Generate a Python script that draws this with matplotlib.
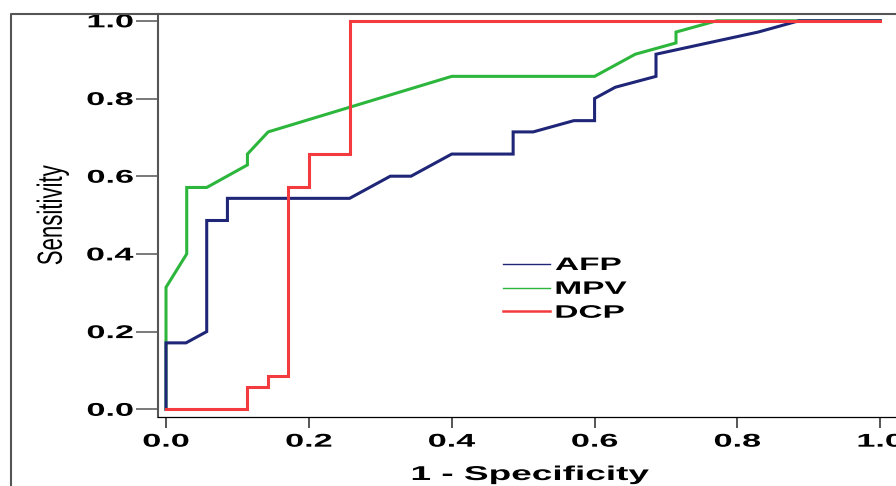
import matplotlib
matplotlib.use("Agg")
import matplotlib.pyplot as plt
from matplotlib.lines import Line2D
from matplotlib.patheffects import AbstractPathEffect
from matplotlib.transforms import Affine2D


# ROC curves (1 - specificity, sensitivity)
afp_fpr = [0.0, 0.0, 0.028, 0.057, 0.057, 0.086, 0.086, 0.257, 0.314, 0.343, 0.400, 0.486,
           0.486, 0.514, 0.571, 0.600, 0.600, 0.629, 0.686, 0.686, 0.829, 0.886, 1.0]
afp_tpr = [0.0, 0.171, 0.171, 0.200, 0.486, 0.486, 0.543, 0.543, 0.600, 0.600, 0.657, 0.657,
           0.714, 0.714, 0.743, 0.743, 0.800, 0.829, 0.857, 0.914, 0.971, 1.0, 1.0]

mpv_fpr = [0.0, 0.0, 0.029, 0.029, 0.057, 0.114, 0.114, 0.143, 0.400, 0.600, 0.657, 0.714,
           0.714, 0.771, 1.0]
mpv_tpr = [0.0, 0.314, 0.400, 0.571, 0.571, 0.629, 0.657, 0.714, 0.857, 0.857, 0.914, 0.943,
           0.971, 1.0, 1.0]

dcp_fpr = [0.0, 0.114, 0.114, 0.143, 0.143, 0.171, 0.171, 0.200, 0.200, 0.257, 0.257, 1.0]
dcp_tpr = [0.0, 0.0, 0.057, 0.057, 0.086, 0.086, 0.571, 0.571, 0.657, 0.657, 1.0, 1.0]

TICKS = [0.0, 0.2, 0.4, 0.6, 0.8, 1.0]
TICK_LABELS = ["0.0", "0.2", "0.4", "0.6", "0.8", "1.0"]

AFP_COLOR = "#1f2677"
MPV_COLOR = "#2db63c"
DCP_COLOR = "#f33b3f"

FONT = "Liberation Sans"


class Stretch(AbstractPathEffect):
    # the source picture is squashed sideways, so widen the glyphs to match
    def __init__(self, sx=1.0, sy=1.0, anchor="center"):
        super().__init__()
        self.sx, self.sy, self.anchor = sx, sy, anchor

    def draw_path(self, renderer, gc, tpath, affine, rgbFace=None):
        ext = tpath.get_extents()
        if self.anchor == "left":
            cx = ext.x0
        elif self.anchor == "right":
            cx = ext.x1
        else:
            cx = (ext.x0 + ext.x1) / 2
        cy = (ext.y0 + ext.y1) / 2
        stretch = Affine2D().translate(-cx, -cy).scale(self.sx, self.sy).translate(cx, cy)
        renderer.draw_path(gc, tpath, stretch + affine, rgbFace)


def main():
    W, H = 896, 486
    fig = plt.figure(figsize=(W / 100, H / 100), dpi=100)

    # axes box in pixels: left 158, top 14, bottom 417, right runs past the image
    ax = fig.add_axes([158 / W, (H - 417) / H, 751 / W, 403 / H])

    ax.plot(mpv_fpr, mpv_tpr, color=MPV_COLOR, lw=2.2, solid_joinstyle="miter")
    ax.plot(afp_fpr, afp_tpr, color=AFP_COLOR, lw=2.2, solid_joinstyle="miter")
    ax.plot(dcp_fpr, dcp_tpr, color=DCP_COLOR, lw=2.2, solid_joinstyle="miter")

    ax.set_xlim(-0.0112, 1.0402)
    ax.set_ylim(-0.0198, 1.0175)

    ax.set_xticks(TICKS)
    ax.set_xticklabels(TICK_LABELS)
    ax.set_yticks(TICKS)
    ax.set_yticklabels(TICK_LABELS)

    ax.tick_params(axis="y", direction="out", length=15.8, width=1.1, color="#555555",
                   pad=2, labelsize=13.3)
    ax.tick_params(axis="x", direction="out", length=8, width=1.4, color="#555555",
                   pad=4, labelsize=13.3)
    for lab in ax.get_yticklabels():
        lab.set_fontfamily(FONT)
        lab.set_fontweight("bold")
        lab.set_path_effects([Stretch(1.85, 1.0, "right")])
    for lab in ax.get_xticklabels():
        lab.set_fontfamily(FONT)
        lab.set_fontweight("bold")
        lab.set_path_effects([Stretch(1.85, 1.0, "center")])

    ax.spines["top"].set_visible(False)
    ax.spines["right"].set_visible(False)
    ax.spines["left"].set_color("#555555")
    ax.spines["left"].set_linewidth(1.5)
    ax.spines["bottom"].set_color("black")
    ax.spines["bottom"].set_linewidth(0.9)

    xl = ax.set_xlabel("1 - Specificity", fontsize=14.4, fontweight="bold", family=FONT,
                       va="top")
    ax.xaxis.set_label_coords((530 - 158) / 751, (417 - 465) / 403)
    xl.set_path_effects([Stretch(1.85, 1.0, "center")])

    yl = ax.set_ylabel("Sensitivity", fontsize=16, family=FONT, va="center", ha="center")
    ax.yaxis.set_label_coords((53 - 158) / 751, (417 - 215) / 403)
    yl.set_path_effects([Stretch(1.0, 1.57, "center")])

    handles = [
        Line2D([], [], color=AFP_COLOR, lw=1.0),
        Line2D([], [], color=MPV_COLOR, lw=1.0),
        Line2D([], [], color=DCP_COLOR, lw=1.8),
    ]
    leg = ax.legend(handles, ["AFP", "MPV", "DCP"], loc="upper left",
                    bbox_to_anchor=(503 / W, 1 - 257 / H), bbox_transform=fig.transFigure,
                    frameon=False, borderpad=0, borderaxespad=0, handlelength=2.6,
                    handletextpad=0.3, labelspacing=0.38,
                    prop={"family": FONT, "weight": "bold", "size": 13})
    for t in leg.get_texts():
        t.set_path_effects([Stretch(1.85, 1.0, "left")])

    # outer chart frame (left edge and top edge of the original export)
    fig.add_artist(Line2D([11 / W, 11 / W, 1.0], [0.0, 1 - 14 / H, 1 - 14 / H],
                          transform=fig.transFigure, color="#555555", lw=1.5))

    fig.savefig("out.png", dpi=100)
    plt.close(fig)


if __name__ == "__main__":
    main()
